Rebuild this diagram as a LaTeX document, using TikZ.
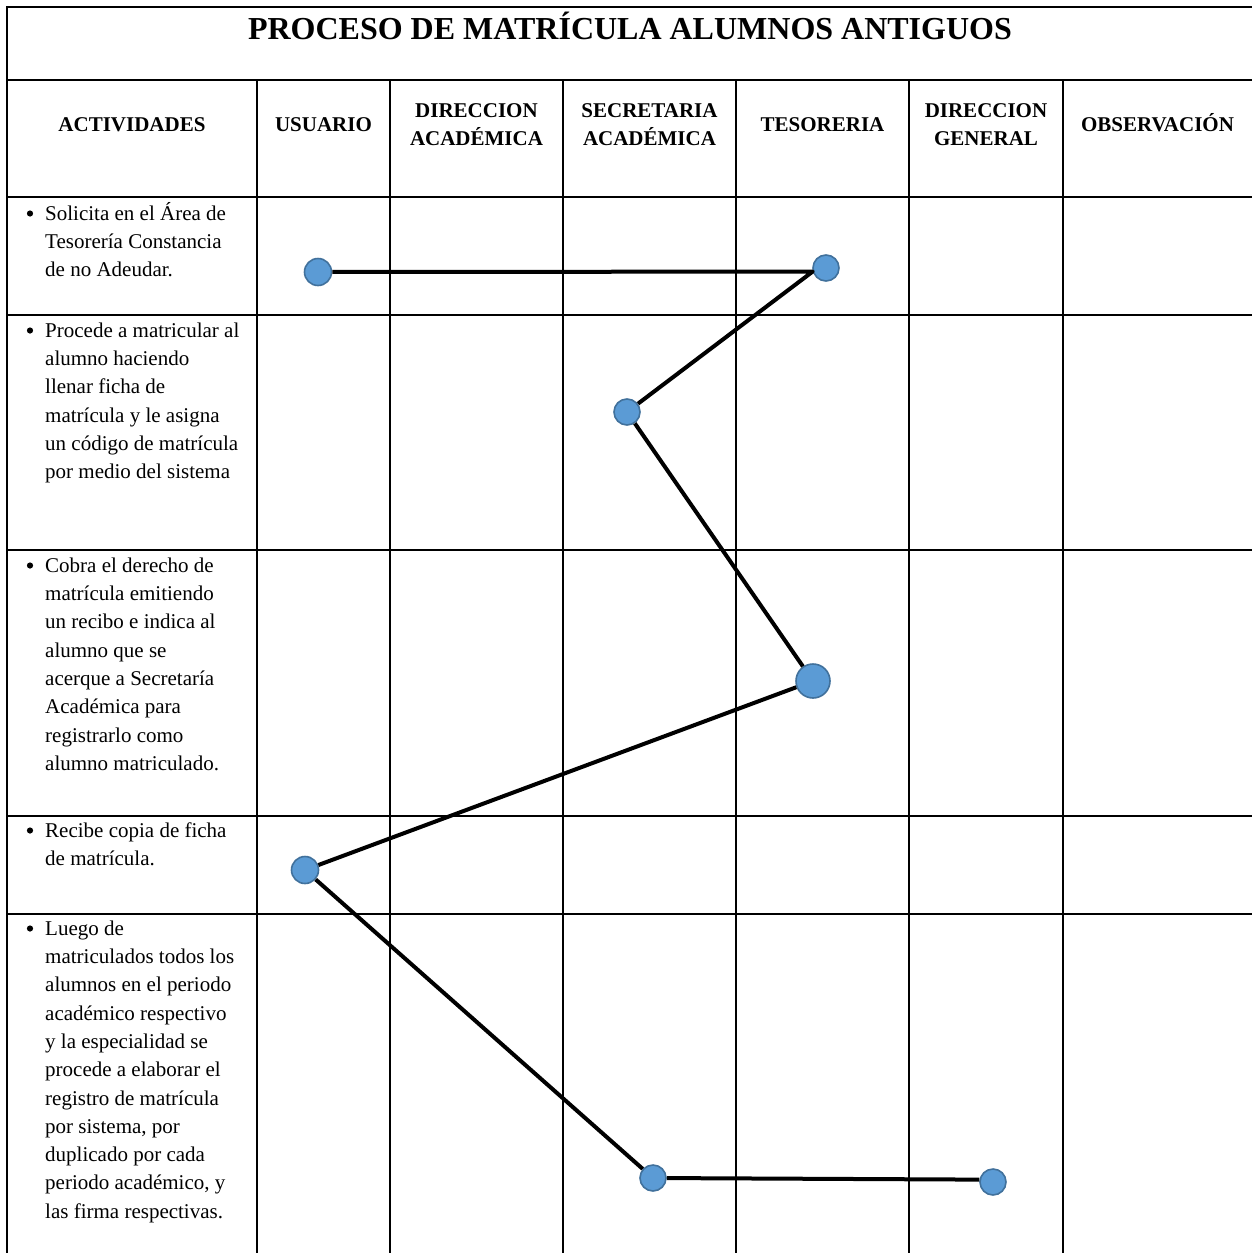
\documentclass[tikz,border=0pt]{standalone}
\usepackage{fontspec}
\setmainfont{Liberation Serif}
\definecolor{dotfill}{HTML}{5B9BD5}
\definecolor{dotline}{HTML}{41719C}
\begin{document}
\begin{tikzpicture}[x=1pt,y=-1pt,
  grid/.style={line width=2.2pt,black},
  conn/.style={line width=4pt,black,line join=round},
  dot/.style={circle,fill=dotfill,draw=dotline,line width=1.6pt,inner sep=0pt,minimum size=27pt},
  bigdot/.style={dot,minimum size=34pt},
  titletext/.style={font={\fontsize{32}{38}\selectfont\bfseries},inner sep=0pt,anchor=base},
  headtext/.style={font={\fontsize{21}{28}\selectfont\bfseries},inner sep=0pt,anchor=north,align=center},
  acttext/.style={font={\fontsize{21}{28.3}\selectfont},inner sep=0pt,anchor=north west,align=left},
  bullet/.style={circle,fill=black,inner sep=0pt,minimum size=6.2pt}]
\useasboundingbox (0,0) rectangle (1252,1253);
\fill[white] (0,0) rectangle (1252,1253);
% grid
\draw[grid] (1252,7) -- (7,7) -- (7,1253);
\foreach \yy in {80,197,315,550,816,914} \draw[grid] (7,\yy) -- (1252,\yy);
\foreach \xx in {257,390,563,736,909,1063} \draw[grid] (\xx,80) -- (\xx,1253);
% title
\node[titletext] (title) at (630,39) {PROCESO DE MATRÍCULA ALUMNOS ANTIGUOS};
% headers
\node[headtext] (h1) at (132,111.4) {\strut ACTIVIDADES};
\node[headtext] (h2) at (323.5,111.4) {\strut USUARIO};
\node[headtext] (h3) at (476.5,97.4) {\strut DIRECCION\\ACADÉMICA};
\node[headtext] (h4) at (649.5,97.4) {\strut SECRETARIA\\ACADÉMICA};
\node[headtext] (h5) at (822.5,111.4) {\strut TESORERIA};
\node[headtext] (h6) at (986,97.4) {\strut DIRECCION\\GENERAL};
\node[headtext] (h7) at (1157.5,111.4) {\strut OBSERVACIÓN};
% activities
\node[bullet] (b1) at (30,213.5) {};
\node[acttext] (a1) at (45,200.2) {\strut Solicita en el Área de\\Tesorería Constancia\\de no Adeudar.};
\node[bullet] (b2) at (30,330.5) {};
\node[acttext] (a2) at (45,317.2) {\strut Procede a matricular al\\alumno haciendo\\llenar ficha de\\matrícula y le asigna\\un código de matrícula\\por medio del sistema};
\node[bullet] (b3) at (30,565.5) {};
\node[acttext] (a3) at (45,552.2) {\strut Cobra el derecho de\\matrícula emitiendo\\un recibo e indica al\\alumno que se\\acerque a Secretaría\\Académica para\\registrarlo como\\alumno matriculado.};
\node[bullet] (b4) at (30,830.5) {};
\node[acttext] (a4) at (45,817.2) {\strut Recibe copia de ficha\\de matrícula.};
\node[bullet] (b5) at (30,928.5) {};
\node[acttext] (a5) at (45,915.2) {\strut Luego de\\matriculados todos los\\alumnos en el periodo\\académico respectivo\\y la especialidad se\\procede a elaborar el\\registro de matrícula\\por sistema, por\\duplicado por cada\\periodo académico, y\\las firma respectivas.};
% dots
\node[dot] (n1) at (318,272) {};
\node[dot,minimum size=26pt] (n2) at (826,268) {};
\node[dot,minimum size=26pt] (n3) at (627,412) {};
\node[bigdot] (n4) at (813,681) {};
\node[dot] (n5) at (305,870) {};
\node[dot,minimum size=26pt] (n6) at (653,1178) {};
\node[dot,minimum size=26pt] (n7) at (993,1182) {};
% connectors
\draw[conn] (n1) -- (n2.195) -- (n3);
\draw[conn] (n3) -- (n4);
\draw[conn] (n4) -- (n5);
\draw[conn] (n5) -- (n6);
\draw[conn] (n6) -- (n7.170);
\end{tikzpicture}
\end{document}
